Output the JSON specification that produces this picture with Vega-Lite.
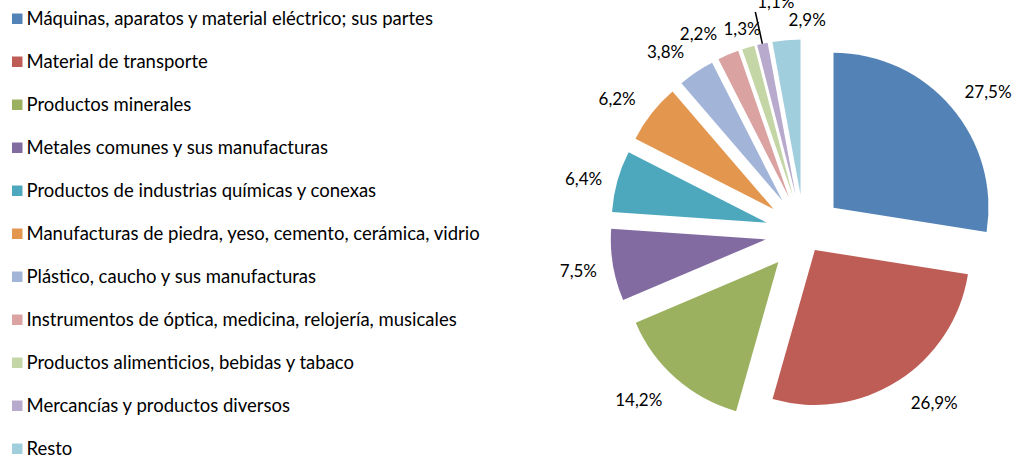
{
  "$schema": "https://vega.github.io/schema/vega-lite/v6.json",
  "width": 1017,
  "height": 462,
  "autosize": {"type": "none"},
  "padding": 0,
  "background": "white",
  "config": {"view": {"stroke": null}, "font": "Lato", "text": {"font": "Lato", "fontSize": 17, "color": "#000000"}},
  "data": {"values": [
    {"cat": "Máquinas, aparatos y material eléctrico; sus partes", "value": 27.5},
    {"cat": "Material de transporte", "value": 26.9},
    {"cat": "Productos minerales", "value": 14.2},
    {"cat": "Metales comunes y sus manufacturas", "value": 7.5},
    {"cat": "Productos de industrias químicas y conexas", "value": 6.4},
    {"cat": "Manufacturas de piedra, yeso, cemento, cerámica, vidrio", "value": 6.2},
    {"cat": "Plástico, caucho y sus manufacturas", "value": 3.8},
    {"cat": "Instrumentos de óptica, medicina, relojería, musicales", "value": 2.2},
    {"cat": "Productos alimenticios, bebidas y tabaco", "value": 1.3},
    {"cat": "Mercancías y productos diversos", "value": 1.1},
    {"cat": "Resto", "value": 2.9}
  ]},
  "transform": [
    {"window": [{"op": "sum", "field": "value", "as": "cum"}], "frame": [null, 0]},
    {"calculate": "datum.cum - datum.value", "as": "start"},
    {"calculate": "(datum.start + datum.value / 2) / 100 * 2 * PI", "as": "mid"},
    {"calculate": "datum.cat === 'Material de transporte' ? 0.13 : 0.25", "as": "expl"},
    {"calculate": "datum.expl * sin(datum.mid)", "as": "ex"},
    {"calculate": "datum.expl * cos(datum.mid)", "as": "ey"},
    {"calculate": "datum.ex + 1.226 * sin(datum.mid)", "as": "lx"},
    {"calculate": "datum.ey + 1.226 * cos(datum.mid)", "as": "ly"},
    {"calculate": "datum.ex + sin(datum.mid)", "as": "r0x"},
    {"calculate": "datum.ey + cos(datum.mid)", "as": "r0y"},
    {"calculate": "datum.ex + 1.21 * sin(datum.mid)", "as": "r1x"},
    {"calculate": "datum.ey + 1.21 * cos(datum.mid)", "as": "r1y"},
    {"calculate": "replace(format(datum.value, '.1f'), '.', ',') + '%'", "as": "label"}
  ],
  "layer": [
    {
      "mark": {"type": "arc", "outerRadius": 155},
      "encoding": {
        "x": {"field": "ex", "type": "quantitative", "scale": {"domain": [-5.187, 1.374], "nice": false, "zero": false}, "axis": null},
        "y": {"field": "ey", "type": "quantitative", "scale": {"domain": [-1.4774, 1.5032], "nice": false, "zero": false}, "axis": null},
        "theta": {"field": "start", "type": "quantitative", "stack": null, "scale": {"domain": [0, 100], "nice": false}},
        "theta2": {"field": "cum"},
        "color": {
          "field": "cat", "type": "nominal",
          "scale": {
            "domain": [
              "Máquinas, aparatos y material eléctrico; sus partes",
              "Material de transporte",
              "Productos minerales",
              "Metales comunes y sus manufacturas",
              "Productos de industrias químicas y conexas",
              "Manufacturas de piedra, yeso, cemento, cerámica, vidrio",
              "Plástico, caucho y sus manufacturas",
              "Instrumentos de óptica, medicina, relojería, musicales",
              "Productos alimenticios, bebidas y tabaco",
              "Mercancías y productos diversos",
              "Resto"
            ],
            "range": ["#5383B6", "#BD5D56", "#9BB160", "#826BA1", "#4EA8BD", "#E3964E", "#A2B5D8", "#DAA2A1", "#C4D6A5", "#B7AACC", "#A0CEDD"]
          },
          "legend": {
            "orient": "none", "legendX": 8, "legendY": 9.5, "title": null,
            "symbolType": "square", "symbolSize": 110, "symbolStrokeWidth": 0,
            "labelFont": "Lato", "labelFontSize": 18.5, "labelColor": "#000000",
            "rowPadding": 24, "labelOffset": 0, "labelLimit": 700, "padding": 0
          }
        }
      }
    },
    {
      "transform": [{"filter": {"field": "value", "equal": 27.5}}],
      "mark": {"type": "text", "align": "center", "baseline": "middle", "dx": 10, "dy": 9},
      "encoding": {"x": {"field": "lx", "type": "quantitative"}, "y": {"field": "ly", "type": "quantitative"}, "text": {"field": "label"}}
    },
    {
      "transform": [{"filter": {"field": "value", "equal": 26.9}}],
      "mark": {"type": "text", "align": "center", "baseline": "middle", "dx": 17, "dy": -6},
      "encoding": {"x": {"field": "lx", "type": "quantitative"}, "y": {"field": "ly", "type": "quantitative"}, "text": {"field": "label"}}
    },
    {
      "transform": [{"filter": {"field": "value", "equal": 14.2}}],
      "mark": {"type": "text", "align": "center", "baseline": "middle", "dx": -14, "dy": -4},
      "encoding": {"x": {"field": "lx", "type": "quantitative"}, "y": {"field": "ly", "type": "quantitative"}, "text": {"field": "label"}}
    },
    {
      "transform": [{"filter": {"field": "value", "equal": 7.5}}],
      "mark": {"type": "text", "align": "center", "baseline": "middle", "dx": 0, "dy": 1},
      "encoding": {"x": {"field": "lx", "type": "quantitative"}, "y": {"field": "ly", "type": "quantitative"}, "text": {"field": "label"}}
    },
    {
      "transform": [{"filter": {"field": "value", "equal": 6.4}}],
      "mark": {"type": "text", "align": "center", "baseline": "middle", "dx": 0, "dy": 8},
      "encoding": {"x": {"field": "lx", "type": "quantitative"}, "y": {"field": "ly", "type": "quantitative"}, "text": {"field": "label"}}
    },
    {
      "transform": [{"filter": {"field": "value", "equal": 6.2}}],
      "mark": {"type": "text", "align": "center", "baseline": "middle", "dx": -7, "dy": 8},
      "encoding": {"x": {"field": "lx", "type": "quantitative"}, "y": {"field": "ly", "type": "quantitative"}, "text": {"field": "label"}}
    },
    {
      "transform": [{"filter": {"field": "value", "equal": 3.8}}],
      "mark": {"type": "text", "align": "center", "baseline": "middle", "dx": -11, "dy": 10},
      "encoding": {"x": {"field": "lx", "type": "quantitative"}, "y": {"field": "ly", "type": "quantitative"}, "text": {"field": "label"}}
    },
    {
      "transform": [{"filter": {"field": "value", "equal": 2.2}}],
      "mark": {"type": "text", "align": "center", "baseline": "middle", "dx": -16, "dy": 13},
      "encoding": {"x": {"field": "lx", "type": "quantitative"}, "y": {"field": "ly", "type": "quantitative"}, "text": {"field": "label"}}
    },
    {
      "transform": [{"filter": {"field": "value", "equal": 1.3}}],
      "mark": {"type": "text", "align": "center", "baseline": "middle", "dx": 4, "dy": 16},
      "encoding": {"x": {"field": "lx", "type": "quantitative"}, "y": {"field": "ly", "type": "quantitative"}, "text": {"field": "label"}}
    },
    {
      "transform": [{"filter": {"field": "value", "equal": 1.1}}],
      "mark": {"type": "text", "align": "center", "baseline": "middle", "dx": 21, "dy": -7},
      "encoding": {"x": {"field": "lx", "type": "quantitative"}, "y": {"field": "ly", "type": "quantitative"}, "text": {"field": "label"}}
    },
    {
      "transform": [{"filter": {"field": "value", "equal": 2.9}}],
      "mark": {"type": "text", "align": "center", "baseline": "middle", "dx": 24, "dy": 16},
      "encoding": {"x": {"field": "lx", "type": "quantitative"}, "y": {"field": "ly", "type": "quantitative"}, "text": {"field": "label"}}
    },
    {
      "transform": [{"filter": {"field": "value", "equal": 1.1}}],
      "mark": {"type": "rule", "color": "#000000", "strokeWidth": 1.5},
      "encoding": {
        "x": {"field": "r0x", "type": "quantitative"},
        "y": {"field": "r0y", "type": "quantitative"},
        "x2": {"field": "r1x"},
        "y2": {"field": "r1y"}
      }
    }
  ]
}
